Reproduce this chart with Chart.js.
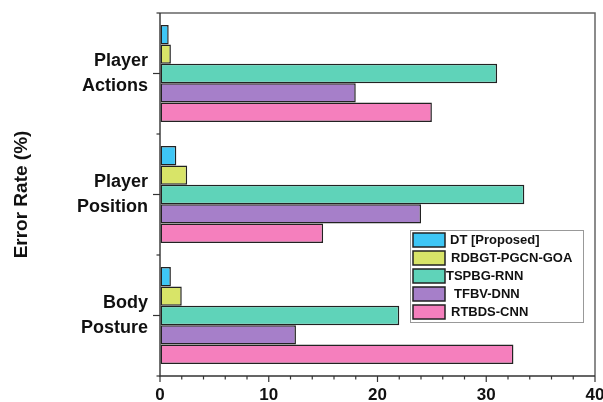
<!DOCTYPE html>
<html>
<head>
<meta charset="utf-8">
<script src="https://cdn.jsdelivr.net/npm/chart.js@4/dist/chart.umd.min.js"></script>
<style>
  html, body { margin: 0; padding: 0; background: #fff; }
  #wrap { width: 603px; height: 402px; position: relative; }
</style>
</head>
<body>
<div id="wrap"><canvas id="c" width="603" height="402"></canvas></div>
<script>
const categories = [['Player', 'Actions'], ['Player', 'Position'], ['Body', 'Posture']];
const seriesNames = ['DT [Proposed]', 'RDBGT-PGCN-GOA', 'TSPBG-RNN', 'TFBV-DNN', 'RTBDS-CNN'];
const dtValues    = [0.8, 1.5, 1.0];
const rdbgtValues = [1.0, 2.5, 2.0];
const tspbgValues = [31.0, 33.5, 22.0];
const tfbvValues  = [18.0, 24.0, 12.5];
const rtbdsValues = [25.0, 15.0, 32.5];
const xTickLabels = [0, 10, 20, 30, 40];
const yAxisTitle = 'Error Rate (%)';

const colors = ['#3ec6f5', '#d8e468', '#5fd3b9', '#a67fc9', '#f57fbd'];
const allValues = [dtValues, rdbgtValues, tspbgValues, tfbvValues, rtbdsValues];

const datasets = seriesNames.map((name, i) => ({
  label: name,
  data: allValues[i],
  backgroundColor: colors[i],
  borderColor: '#222',
  borderWidth: 1.5,
  borderSkipped: false,
  categoryPercentage: 0.8,
  barPercentage: 1.0
}));

const FONT = '"Liberation Sans", Arial, Helvetica, sans-serif';

const framePlugin = {
  id: 'framePlugin',
  afterDraw(chart) {
    const ctx = chart.ctx;
    const a = chart.chartArea;
    const xs = chart.scales.x;
    const ys = chart.scales.y;
    ctx.save();
    // top & right frame
    ctx.strokeStyle = '#666';
    ctx.lineWidth = 1.5;
    ctx.beginPath();
    ctx.moveTo(a.left, a.top);
    ctx.lineTo(a.right, a.top);
    ctx.lineTo(a.right, a.bottom);
    ctx.stroke();
    // left & bottom axis lines
    ctx.strokeStyle = '#333';
    ctx.lineWidth = 1.4;
    ctx.beginPath();
    ctx.moveTo(a.left, a.top);
    ctx.lineTo(a.left, a.bottom);
    ctx.lineTo(a.right, a.bottom);
    ctx.stroke();
    // x ticks: major every 10, minor every 2
    ctx.lineWidth = 1.2;
    xs.ticks.forEach(t => {
      const px = xs.getPixelForValue(t.value);
      const major = xTickLabels.includes(t.value);
      ctx.beginPath();
      ctx.moveTo(px, a.bottom);
      ctx.lineTo(px, a.bottom + (major ? 6 : 3.5));
      ctx.stroke();
    });
    // y ticks: long at category centers, short at boundaries
    const n = categories.length;
    for (let i = 0; i < n; i++) {
      const py = ys.getPixelForValue(i);
      ctx.beginPath();
      ctx.moveTo(a.left, py);
      ctx.lineTo(a.left - 7, py);
      ctx.stroke();
    }
    for (let i = 0; i <= n; i++) {
      const py = ys.getPixelForValue(i - 0.5);
      ctx.beginPath();
      ctx.moveTo(a.left, py);
      ctx.lineTo(a.left - 3.5, py);
      ctx.stroke();
    }
    // legend inside the plot
    const lx = 410, ly = 230, lw = 173, lh = 92;
    ctx.fillStyle = '#fff';
    ctx.fillRect(lx, ly, lw, lh);
    ctx.strokeStyle = '#999';
    ctx.lineWidth = 1;
    ctx.strokeRect(lx + 0.5, ly + 0.5, lw, lh);
    const textOffsets = [40, 41, 36, 44, 41];
    chart.data.datasets.forEach((ds, i) => {
      const y = ly + 3 + i * 18;
      ctx.fillStyle = ds.backgroundColor;
      ctx.fillRect(lx + 3, y, 32, 14);
      ctx.strokeStyle = '#222';
      ctx.lineWidth = 1.5;
      ctx.strokeRect(lx + 3, y, 32, 14);
      ctx.fillStyle = '#111';
      ctx.font = 'bold 13px ' + FONT;
      ctx.textBaseline = 'middle';
      ctx.textAlign = 'left';
      ctx.fillText(ds.label, lx + textOffsets[i], y + 7.5);
    });
    ctx.restore();
  }
};

new Chart(document.getElementById('c'), {
  type: 'bar',
  data: { labels: categories, datasets },
  options: {
    indexAxis: 'y',
    responsive: false,
    animation: false,
    devicePixelRatio: 1,
    layout: { padding: { top: 13, right: 8, left: 0, bottom: 0 } },
    plugins: {
      legend: { display: false },
      tooltip: { enabled: false }
    },
    scales: {
      x: {
        type: 'linear',
        min: 0,
        max: 40,
        border: { display: false },
        grid: { drawOnChartArea: false, tickLength: 6, tickColor: 'transparent' },
        ticks: {
          stepSize: 2,
          autoSkip: false,
          maxRotation: 0,
          padding: 3,
          color: '#111',
          font: { family: FONT, size: 17, weight: 'bold' },
          callback: v => xTickLabels.includes(v) ? String(v) : ''
        },
        afterFit(scale) {
          scale.height = 26;
          scale.paddingLeft = 0;
          scale.paddingRight = 0;
        }
      },
      y: {
        border: { display: false },
        grid: { drawOnChartArea: false, tickLength: 7, tickColor: 'transparent' },
        ticks: {
          padding: 5,
          color: '#111',
          font: { family: FONT, size: 18, weight: 'bold', lineHeight: 1.38 }
        },
        title: {
          display: true,
          text: yAxisTitle,
          color: '#111',
          font: { family: FONT, size: 19, weight: 'bold' },
          padding: { top: 10, bottom: 0 }
        },
        afterFit(scale) {
          scale.width = 160;
          scale.paddingTop = 0;
          scale.paddingBottom = 0;
        }
      }
    }
  },
  plugins: [framePlugin]
});
</script>
</body>
</html>
